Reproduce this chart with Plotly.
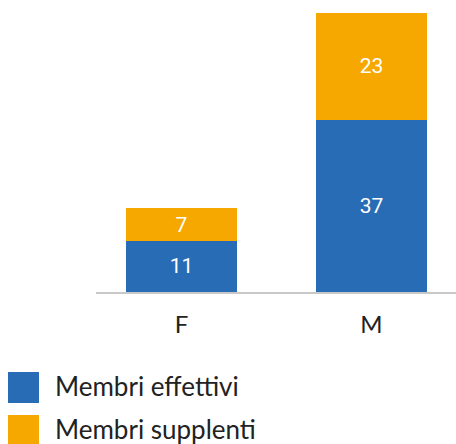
import plotly.graph_objects as go

categories = ["F", "M"]
series_names = ["Membri effettivi", "Membri supplenti"]
effettivi = [11, 37]
supplenti = [7, 23]
colors = ["#276CB5", "#F6A800"]

W, H = 456, 444
L, R, T, B = 96, 0, 13, 152
PW, PH = W - L - R, H - T - B

def px(x):
    return (x - L) / PW

def py(y):
    return (H - B - y) / PH

fig = go.Figure()
for name, vals, col in zip(series_names, [effettivi, supplenti], colors):
    fig.add_trace(go.Bar(
        x=categories, y=vals, name=name, marker=dict(color=col, line=dict(width=0)),
        text=[str(v) for v in vals], textposition="inside", insidetextanchor="middle",
        textfont=dict(family="Roboto", size=21, color="white"),
        width=0.584, showlegend=False, hoverinfo="skip",
    ))

shapes = []
annotations = []
for i, (name, col) in enumerate(zip(series_names, colors)):
    top = 372 + i * 43
    shapes.append(dict(type="rect", xref="paper", yref="paper",
                       x0=px(8), x1=px(39), y0=py(top), y1=py(top + 31),
                       fillcolor=col, line=dict(width=0)))
    annotations.append(dict(text=name, xref="paper", yref="paper",
                            x=px(53), y=py(top + 14), xanchor="left", yanchor="middle",
                            showarrow=False, font=dict(family="Lato", size=26, color="#222222")))

fig.update_layout(
    width=W, height=H, margin=dict(l=L, r=R, t=T, b=B),
    barmode="stack", plot_bgcolor="white", paper_bgcolor="white",
    shapes=shapes, annotations=annotations, uniformtext=dict(mode=False),
    xaxis=dict(range=[-0.45, 1.4447], showline=True, linecolor="#C8C8C8", linewidth=2,
               showgrid=False, zeroline=False, ticks="", ticklabelstandoff=10,
               tickfont=dict(family="Lato", size=24, color="#222222")),
    yaxis=dict(range=[0, 60], visible=False, showgrid=False, zeroline=False),
    hovermode=False,
)
fig.update_traces(cliponaxis=False)
fig.write_html("out.html", config={"displayModeBar": False},
               post_script="document.body.style.margin='0';document.body.style.overflow='hidden';")
